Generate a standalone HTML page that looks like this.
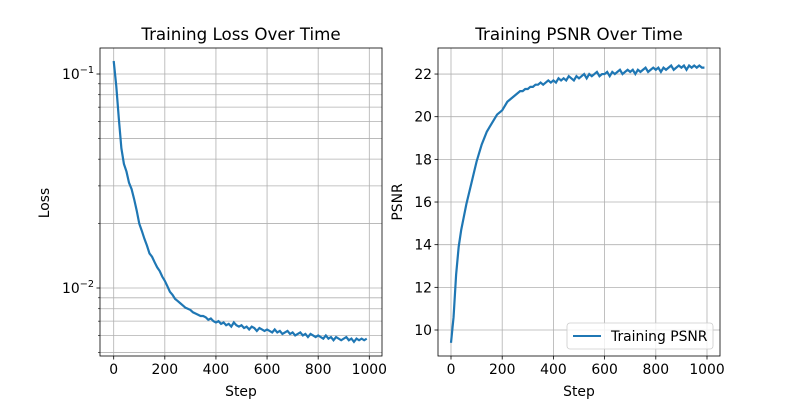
<!DOCTYPE html>
<html><head><meta charset="utf-8"><style>
body{margin:0;background:#fff;}
svg text{font-family:"DejaVu Sans","Liberation Sans",sans-serif;fill:#000;}
</style></head><body>
<svg id="c" width="800" height="400" xmlns="http://www.w3.org/2000/svg"></svg>
<script>
const steps=[];for(let i=0;i<100;i++)steps.push(i*10);
const lossValues=[.115,.088,.062,.045,.038,.035,.031,.029,.026,.023,
.020,.0185,.017,.0158,.0145,.014,.0132,.0125,.012,.0113,
.0108,.0102,.0096,.0093,.0089,.0087,.0085,.0083,.0081,.0080,
.0079,.0077,.0076,.0075,.0074,.0074,.0073,.0071,.0072,.0070,
.0069,.0070,.0068,.0069,.0067,.0068,.0066,.0069,.0067,.0066,
.0067,.0065,.0066,.0064,.0066,.0065,.0063,.0065,.0064,.0063,
.0064,.0063,.0062,.0064,.0062,.0063,.0061,.0062,.0063,.0061,
.0062,.0060,.0061,.0062,.0060,.0061,.0059,.0061,.0060,.0059,
.0060,.0059,.0058,.0060,.0058,.0059,.0057,.0059,.0058,.0057,
.0058,.0059,.0057,.0058,.0056,.0058,.0057,.0058,.0057,.0058];
const psnrValues=[9.4,10.6,12.6,13.9,14.7,15.3,15.9,16.4,16.9,17.4,
17.9,18.3,18.7,19.0,19.3,19.5,19.7,19.9,20.1,20.2,
20.3,20.5,20.7,20.8,20.9,21.0,21.1,21.2,21.2,21.3,
21.3,21.4,21.4,21.5,21.5,21.6,21.5,21.6,21.7,21.6,
21.7,21.6,21.8,21.7,21.8,21.7,21.9,21.8,21.7,21.9,
21.8,21.9,22.0,21.8,22.0,21.9,22.0,22.1,21.9,22.0,
22.0,22.1,21.9,22.1,22.0,22.1,22.2,22.0,22.1,22.2,
22.1,22.2,22.0,22.2,22.1,22.2,22.3,22.1,22.2,22.3,
22.2,22.3,22.1,22.3,22.2,22.3,22.4,22.2,22.3,22.4,
22.3,22.4,22.2,22.4,22.3,22.4,22.3,22.4,22.3,22.3];
const xTicks=[0,200,400,600,800,1000];
const psnrTicks=[10,12,14,16,18,20,22];
const lossMajor=[0.1,0.01];
const lossMinor=[0.005,0.006,0.007,0.008,0.009,0.02,0.03,0.04,0.05,0.06,0.07,0.08,0.09];

const svg=document.getElementById('c');
const NS='http://www.w3.org/2000/svg';
function mk(tag,attrs,name,parent){const e=document.createElementNS(NS,tag);for(const k in attrs)e.setAttribute(k,attrs[k]);


(parent||svg).appendChild(e);return e;}
function txt(x,y,s,name,opts){const t=mk('text',Object.assign({x:x,y:y,'font-size':13.9,'text-anchor':'middle'},opts||{}),name);t.textContent=s;return t;}

const L={x0:100,x1:382,y0:48,y1:356};
const lx=v=>113.7+(v/1000)*(369.3-113.7);
const ly=v=>288-(Math.log10(v)+2)*214;
const R={x0:438,x1:720,y0:48,y1:356};
const rx=v=>451+(v/1000)*(707-451);
const ry=v=>330-(v-10)*21.33;

function grid(A,x1,y1,x2,y2,name){mk('line',{x1:x1,y1:y1,x2:x2,y2:y2,stroke:'#b0b0b0','stroke-width':0.8},name);}

xTicks.forEach(t=>{const x=lx(t);grid(L,x,L.y0,x,L.y1,'loss-x-grid');mk('line',{x1:x,y1:L.y1,x2:x,y2:L.y1+3.5,stroke:'#000','stroke-width':0.8},'loss-x-tick');txt(x,L.y1+18,String(t),'loss-x-tick-label');});
lossMinor.forEach(v=>{const y=ly(v);grid(L,L.x0,y,L.x1,y,'loss-minor-grid');mk('line',{x1:L.x0-2,y1:y,x2:L.x0,y2:y,stroke:'#000','stroke-width':0.6},'loss-minor-tick');});
lossMajor.forEach(v=>{const y=ly(v);grid(L,L.x0,y,L.x1,y,'loss-major-grid');mk('line',{x1:L.x0-3.5,y1:y,x2:L.x0,y2:y,stroke:'#000','stroke-width':0.8},'loss-y-tick');
const t=mk('text',{x:L.x0-6,y:y+5,'font-size':13.9,'text-anchor':'end'},'loss-y-tick-label');t.innerHTML='10<tspan dy="-6" font-size="9.7">−'+(v===0.1?1:2)+'</tspan>';});
xTicks.forEach(t=>{const x=rx(t);grid(R,x,R.y0,x,R.y1,'psnr-x-grid');mk('line',{x1:x,y1:R.y1,x2:x,y2:R.y1+3.5,stroke:'#000','stroke-width':0.8},'psnr-x-tick');txt(x,R.y1+18,String(t),'psnr-x-tick-label');});
psnrTicks.forEach(v=>{const y=ry(v);grid(R,R.x0,y,R.x1,y,'psnr-y-grid');mk('line',{x1:R.x0-3.5,y1:y,x2:R.x0,y2:y,stroke:'#000','stroke-width':0.8},'psnr-y-tick');txt(R.x0-6,y+5,String(v),'psnr-y-tick-label',{'text-anchor':'end'});});

mk('polyline',{points:steps.map((s,i)=>lx(s)+','+ly(lossValues[i])).join(' '),fill:'none',stroke:'#1f77b4','stroke-width':2.2},'loss-line');
mk('polyline',{points:steps.map((s,i)=>rx(s)+','+ry(psnrValues[i])).join(' '),fill:'none',stroke:'#1f77b4','stroke-width':2.2},'psnr-line');

mk('rect',{x:L.x0,y:L.y0,width:L.x1-L.x0,height:L.y1-L.y0,fill:'none',stroke:'#000','stroke-width':0.8},'loss-axes-frame');
mk('rect',{x:R.x0,y:R.y0,width:R.x1-R.x0,height:R.y1-R.y0,fill:'none',stroke:'#000','stroke-width':0.8},'psnr-axes-frame');

txt(241,40,'Training Loss Over Time','loss-chart-title',{'font-size':16.7});
txt(579,40,'Training PSNR Over Time','psnr-chart-title',{'font-size':16.7});
txt(241,396,'Step','loss-x-axis-title');
txt(579,396,'Step','psnr-x-axis-title');
txt(49,203,'Loss','loss-y-axis-title',{transform:'rotate(-90 49 203)'});
txt(402,202,'PSNR','psnr-y-axis-title',{transform:'rotate(-90 402 202)'});

mk('rect',{x:567,y:323,width:146,height:26,rx:3,fill:'#fff','fill-opacity':0.8,stroke:'#ccc','stroke-width':0.8},'legend-box');
mk('line',{x1:573,y1:336,x2:601,y2:336,stroke:'#1f77b4','stroke-width':2},'legend-swatch');
txt(611,341,'Training PSNR','legend-label',{'text-anchor':'start'});
</script>
</body></html>
